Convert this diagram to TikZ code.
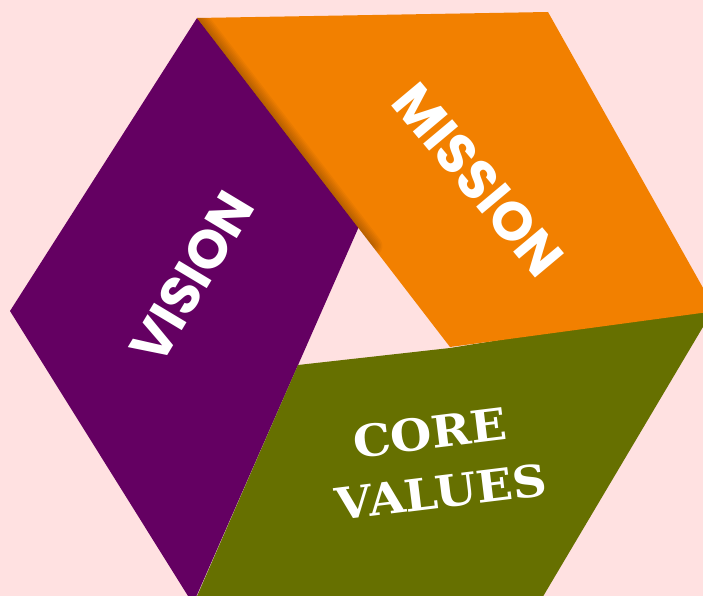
\documentclass[tikz,border=0pt]{standalone}
\usepackage{fontspec}
\newfontfamily\popfont{Poppins}
\newfontfamily\serfont{DejaVu Serif}[FakeStretch=1.08]
\definecolor{bgpink}{RGB}{255,225,225}
\definecolor{vpurple}{RGB}{100,0,98}
\definecolor{morange}{RGB}{242,128,0}
\definecolor{cgreen}{RGB}{102,112,0}
\tikzset{
  panel/.style={draw=none},
  sanslabel/.style={text=white, font=\popfont\bfseries\fontsize{54}{60}\selectfont, inner sep=0pt},
  seriflabel/.style={text=white, font=\serfont\bfseries\fontsize{44}{50}\selectfont, inner sep=0pt, rotate=7}
}
\begin{document}
\begin{tikzpicture}[x=1pt,y=-1pt]
\useasboundingbox (0,0) rectangle (703,596);
\fill[bgpink] (0,0) rectangle (703,596);
\begin{scope}
\clip (0,0) rectangle (703,596);
% purple (VISION)
\fill[vpurple] (197,18) -- (10,311) -- (193,604) -- (364,215) -- cycle;
% green (CORE VALUES)
\fill[cgreen] (298,365) -- (450,348) -- (716,305) -- (535,610) -- (191,610) -- cycle;
% orange (MISSION)
\fill[morange] (197,18) -- (548,12) -- (716,311) -- (450,347) -- cycle;
% soft shadow along the orange inner edge
\begin{scope}
\clip (197,18) -- (548,12) -- (716,311) -- (450,347) -- cycle;
\foreach \w in {3,6,9,12,15,18,21} {
  \draw[black, opacity=0.035, line width=\w pt, line cap=round] (197,18) -- (372,246);
}
\end{scope}
\end{scope}
\node[sanslabel, rotate=59] (vision) at (192,277) {VISION};
\node[sanslabel, rotate=-50] (mission) at (478,180) {MISSION};
\node[seriflabel] (core) at (430,433) {CORE};
\node[seriflabel] (values) at (441,492) {VALUES};
\end{tikzpicture}
\end{document}
